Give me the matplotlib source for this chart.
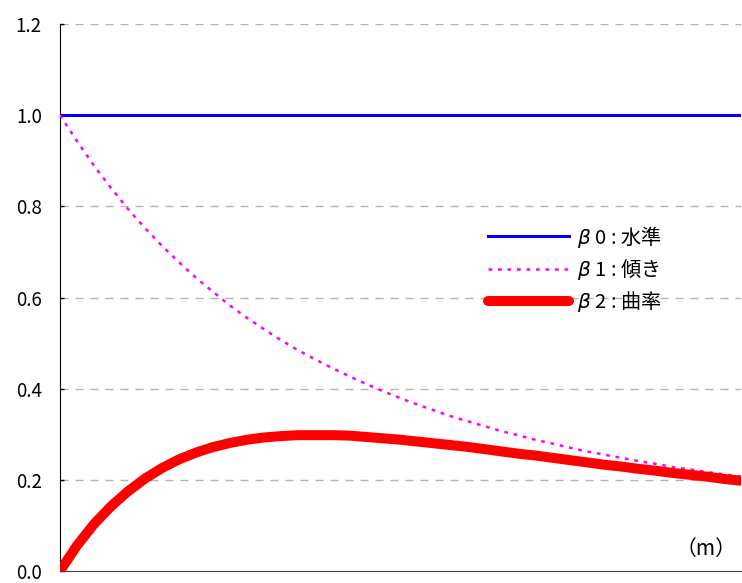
import matplotlib
matplotlib.use("Agg")
import matplotlib.pyplot as plt

plt.rcParams["font.family"] = ["Noto Sans CJK JP", "DejaVu Sans"]

# maturity (months) and the three factor loadings
maturity = [0, 3, 6, 9, 12, 15, 18, 21, 24, 27, 30, 33, 36, 39, 42, 45, 48, 51, 54, 57, 60,
            63, 66, 69, 72, 75, 78, 81, 84, 87, 90, 93, 96, 99, 102, 105, 108, 111, 114, 117, 120]
level = [1.0] * len(maturity)
slope = [1.000, 0.943, 0.889, 0.840, 0.794, 0.752, 0.713, 0.677, 0.643, 0.612, 0.582,
         0.555, 0.530, 0.506, 0.484, 0.464, 0.445, 0.427, 0.410, 0.394, 0.379,
         0.365, 0.352, 0.339, 0.328, 0.317, 0.306, 0.297, 0.287, 0.279, 0.270,
         0.262, 0.255, 0.248, 0.241, 0.235, 0.228, 0.223, 0.217, 0.212, 0.207]
curvature = [0.000, 0.056, 0.103, 0.142, 0.175, 0.203, 0.226, 0.245, 0.260, 0.272, 0.281,
             0.288, 0.293, 0.296, 0.298, 0.298, 0.298, 0.297, 0.294, 0.291, 0.288,
             0.284, 0.280, 0.276, 0.272, 0.267, 0.262, 0.257, 0.253, 0.248, 0.243,
             0.238, 0.233, 0.229, 0.224, 0.220, 0.215, 0.211, 0.207, 0.202, 0.198]
labels = ["$\\beta$ 0 : 水準", "$\\beta$ 1 : 傾き", "$\\beta$ 2 : 曲率"]
yticks = [0.0, 0.2, 0.4, 0.6, 0.8, 1.0, 1.2]

fig = plt.figure(figsize=(7.42, 5.83), dpi=100)
ax = fig.add_axes([60 / 742, 12 / 583, 681 / 742, 547 / 583])

ax.plot(maturity, level, color="#0000ff", lw=2.2, label=labels[0], zorder=3)
ax.plot(maturity, slope, color="#ff00ff", lw=1.8, linestyle=(0, (1.5, 2.3)),
        label=labels[1], zorder=3)
ax.plot(maturity, curvature, color="#ff0000", lw=7.2, solid_capstyle="round",
        solid_joinstyle="round", label=labels[2], zorder=3)

ax.set_xlim(0, 120)
ax.set_ylim(0, 1.2)
ax.set_xticks([])
ax.set_yticks(yticks)
ax.set_yticklabels([f"{v:.1f}" for v in yticks])
ax.tick_params(axis="y", direction="in", length=3, width=1, pad=13,
               labelsize=13.5, colors="black")

for y in yticks[1:]:
    ax.axhline(y, color="#b4b4b4", lw=1, linestyle=(0, (5.8, 5)), zorder=1)

ax.spines["top"].set_visible(False)
ax.spines["right"].set_visible(False)
ax.spines["left"].set_color("black")
ax.spines["bottom"].set_color("#404040")

leg = ax.legend(loc="upper left", bbox_to_anchor=(0.617, 0.65), frameon=False,
                fontsize=14.5, handlelength=4.0, handletextpad=0.4,
                labelspacing=0.36, borderaxespad=0)

ax.text(0.993, 0.04, "（m）", transform=ax.transAxes, ha="right", va="center",
        fontsize=15)

fig.savefig("out.png", dpi=100)
